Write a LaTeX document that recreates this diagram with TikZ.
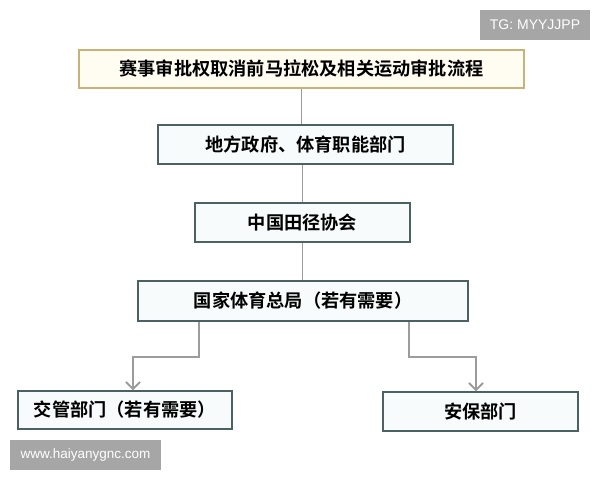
\documentclass[tikz,border=0pt]{standalone}
\usepackage{fontspec}
\usepackage[svgnames]{xcolor}
\usepackage{tikz}
\usetikzlibrary{arrows.meta}

\newfontfamily\cjk{Noto Sans CJK SC Bold}
\newfontfamily\wmfont{Liberation Sans}

\definecolor{boxline}{HTML}{4A6262}
\definecolor{boxfill}{HTML}{F7FBFB}
\definecolor{titleline}{HTML}{C8B27A}
\definecolor{titlefill}{HTML}{FFFDF2}
\definecolor{linkgray}{HTML}{9C9C9C}
\definecolor{tagfill}{HTML}{A6A6A6}

\begin{document}
\begin{tikzpicture}[x=1pt,y=-1pt,
	stage/.style={draw=boxline,fill=boxfill,line width=1.5pt,inner sep=0pt,font=\cjk\fontsize{18.2}{21}\selectfont},
	link/.style={draw=linkgray,line width=1.8pt},
	branch/.style={link,-{Straight Barb[length=7pt,width=14pt]}},
	tag/.style={fill=tagfill,text=white,inner sep=0pt}]
	\useasboundingbox (0,0) rectangle (600,480);

	\node [stage,draw=titleline,fill=titlefill,minimum width=445pt,minimum height=38pt] (title) at (301.5,69) {赛事审批权取消前马拉松及相关运动审批流程};
	\node [stage,minimum width=295pt,minimum height=39pt] (local) at (305.5,144.5) {地方政府、体育职能部门};
	\node [stage,minimum width=215pt,minimum height=39pt] (caa) at (302.5,222.5) {中国田径协会};
	\node [stage,minimum width=330pt,minimum height=40pt] (gasc) at (303,301) {国家体育总局（若有需要）};
	\node [stage,minimum width=214pt,minimum height=38pt] (traffic) at (125,410) {交管部门（若有需要）};
	\node [stage,minimum width=195pt,minimum height=39pt] (security) at (480.5,411.5) {安保部门};

	\draw [link] (title.south) -- (title.south |- local.north);
	\draw [link] (caa.north |- local.south) -- (caa.north);
	\draw [link] (caa.south) -- (caa.south |- gasc.north);
	\draw [branch] ([xshift=-104pt]gasc.south) -- ++(0,35) -| ([xshift=8pt]traffic.north);
	\draw [branch] ([xshift=106pt]gasc.south) -- ++(0,35) -| ([xshift=-4.5pt]security.north);

	\node [tag,minimum width=110pt,minimum height=30pt,font=\wmfont\fontsize{14}{16}\selectfont] (tg tag) at (535,25) {TG: MYYJJPP};
	\node [tag,minimum width=151pt,minimum height=30pt,font=\wmfont\fontsize{13.5}{16}\selectfont] (site tag) at (85.5,455) {www.haiyanygnc.com};

\end{tikzpicture}
\end{document}
